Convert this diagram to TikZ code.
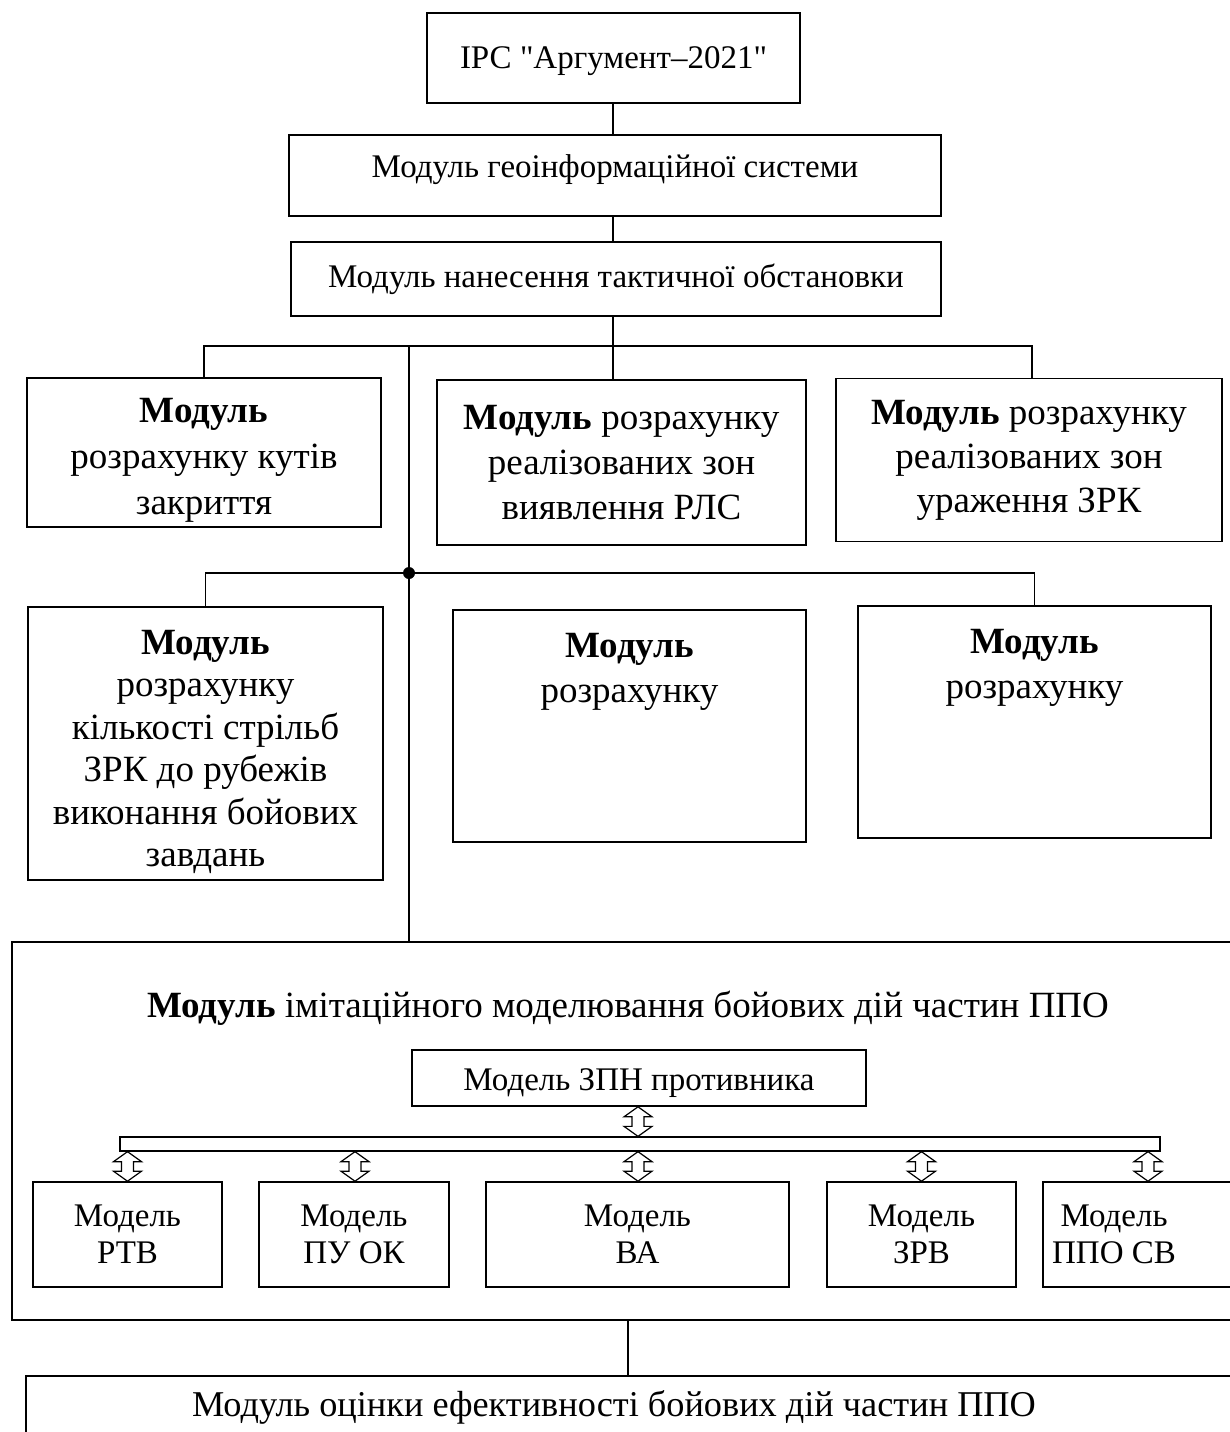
\documentclass[tikz,border=0pt]{standalone}
\usepackage{fontspec}
\setmainfont{Liberation Serif}[Ligatures=TeXOff]
\usetikzlibrary{calc}
\newcommand\dblarr[2]{\draw[darrow] let \p1=(#1), \p2=(#2) in
  (\x1,\y1) -- (\x1+14pt,\y1-10pt) -- (\x1+6pt,\y1-10pt) -- (\x1+6pt,\y2+10pt) -- (\x1+14pt,\y2+10pt) --
  (\x1,\y2) -- (\x1-14pt,\y2+10pt) -- (\x1-6pt,\y2+10pt) -- (\x1-6pt,\y1-10pt) -- (\x1-14pt,\y1-10pt) -- cycle;}
\begin{document}
\begin{tikzpicture}[x=1pt,y=-1pt,
  box/.style={draw, line width=1.6pt, inner sep=0pt, align=center, font=\fontsize{37}{45}\selectfont},
  sbox/.style={box, font=\fontsize{33}{37}\selectfont},
  txt/.style={inner sep=0pt, align=center, font=\fontsize{37}{45}\selectfont},
  stxt/.style={inner sep=0pt, align=center, font=\fontsize{33}{37}\selectfont},
  conn/.style={line width=1.3pt},
  darrow/.style={draw, fill=white, line width=1.2pt, line join=miter},
  bus/.style={draw, line width=1.3pt, inner sep=0pt},
  jdot/.style={circle, fill, inner sep=0pt, minimum size=12pt}]
\useasboundingbox (0,0) rectangle (1230,1432);
\clip (0,0) rectangle (1230,1432);
% top chain
\node[sbox, minimum width=373pt, minimum height=90pt] (ipc) at (613.5,58) {};
\node[stxt] (ipct) at (613.5,61) {ІРС "Аргумент–2021"};
\node[sbox, minimum width=652pt, minimum height=81pt, text depth=18pt] (geo) at (615,175.5) {Модуль геоінформаційної системи};
\node[sbox, minimum width=650pt, minimum height=74pt] (tac) at (616,279) {Модуль нанесення тактичної обстановки};
% first row
\node[box, minimum width=354pt, minimum height=149pt] (A) at (204,452.5) {};
\node[txt, font=\fontsize{37}{46}\selectfont] (At) at (204,460) {\textbf{Модуль}\\розрахунку кутів\\закриття};
\node[box, minimum width=369pt, minimum height=165pt] (B) at (621.5,462.5) {\textbf{Модуль} розрахунку\\реалізованих зон\\виявлення РЛС};
\node[box, minimum width=386pt, minimum height=163pt, font=\fontsize{37}{44}\selectfont] (C) at (1029,460) {\textbf{Модуль} розрахунку\\реалізованих зон\\ураження ЗРК};
% second row
\node[box, minimum width=355pt, minimum height=273pt] (D) at (205.5,743.5) {};
\node[txt, font=\fontsize{37}{42.5}\selectfont] (Dt) at (205.5,752) {\textbf{Модуль}\\розрахунку\\кількості стрільб\\ЗРК до рубежів\\виконання бойових\\завдань};
\node[box, minimum width=353pt, minimum height=232pt] (E) at (629.5,726) {};
\node[txt, anchor=north] (Et) at ([yshift=-24pt]E.north) {\textbf{Модуль}\\розрахунку};
\node[box, minimum width=353pt, minimum height=232pt] (F) at (1034.5,722) {};
\node[txt, anchor=north] (Ft) at ([yshift=-24pt]F.north) {\textbf{Модуль}\\розрахунку};
% simulation module
\node[box, minimum width=1233pt, minimum height=378pt] (M) at (628.5,1131) {};
\node[txt] (Mt) at (628,1008) {\textbf{Модуль} імітаційного моделювання бойових дій частин ППО};
\node[sbox, minimum width=454pt, minimum height=56pt] (zpn) at (639,1078) {};
\node[stxt] (zpnt) at (639,1083) {Модель ЗПН противника};
\node[bus, minimum width=1040pt, minimum height=14pt] (bs) at (640,1144) {};
\node[sbox, minimum width=189pt, minimum height=105pt] (rtb) at (127.5,1234.5) {Модель\\РТВ};
\node[sbox, minimum width=190pt, minimum height=105pt] (pu) at (354,1234.5) {Модель\\ПУ ОК};
\node[sbox, minimum width=303pt, minimum height=105pt] (va) at (637.5,1234.5) {Модель\\ВА};
\node[sbox, minimum width=189pt, minimum height=105pt] (zrv) at (921.5,1234.5) {Модель\\ЗРВ};
\node[sbox, minimum width=202pt, minimum height=105pt] (ppo) at (1144,1234.5) {};
\node[stxt] (ppot) at (1114,1234.5) {Модель\\ППО СВ};
% evaluation module
\node[box, minimum width=1219pt, minimum height=120pt] (Q) at (635.5,1436) {};
\node[txt, font=\fontsize{36.3}{44}\selectfont] (Qt) at (614,1407) {Модуль оцінки ефективності бойових дій частин ППО};
% connectors of the top part
\coordinate (tr) at (613,346);
\coordinate (tr2) at (409,573);
\draw[conn] (ipc.south -| tr) -- (geo.north -| tr);
\draw[conn] (geo.south -| tr) -- (tac.north -| tr);
\draw[conn] (tac.south -| tr) -- (B.north -| tr);
\draw[conn] (A.north) |- (tr) -| (1032,0 |- C.north);
\draw[conn] (409,346) -- (tr2) -- (M.north -| tr2);
\draw[conn] (D.north) |- (tr2) -| (F.north);
\node[jdot] (jd) at (tr2) {};
% double arrows
\dblarr{zpn.south -| 638,0}{bs.north -| 638,0}
\dblarr{bs.south -| rtb.north}{rtb.north}
\dblarr{bs.south -| 355,0}{pu.north -| 355,0}
\dblarr{bs.south -| 638,0}{va.north -| 638,0}
\dblarr{bs.south -| zrv.north}{zrv.north}
\dblarr{bs.south -| 1148,0}{ppo.north -| 1148,0}
\draw[conn] (M.south -| 628,0) -- (Q.north -| 628,0);
\end{tikzpicture}
\end{document}
